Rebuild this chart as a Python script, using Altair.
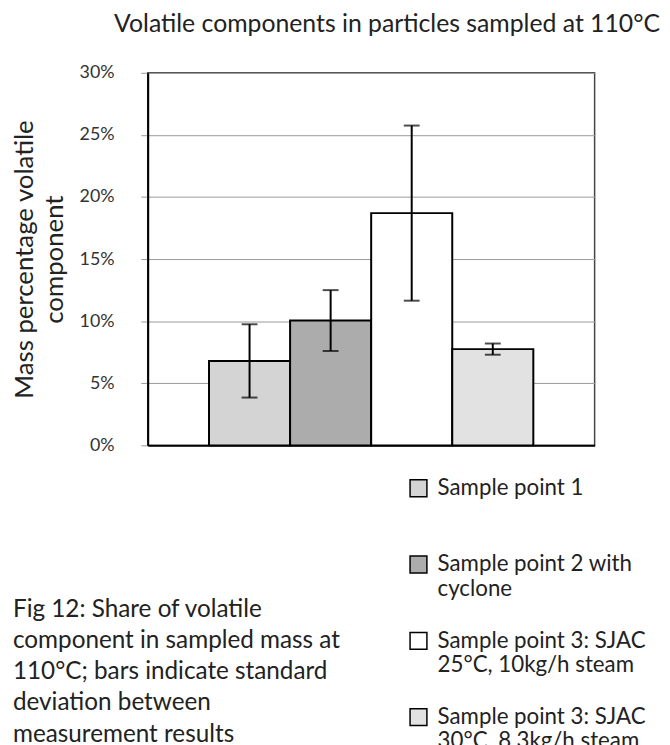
import altair as alt
import pandas as pd

categories = [
    "Sample point 1",
    "Sample point 2 with|cyclone",
    "Sample point 3: SJAC|25°C, 10kg/h steam",
    "Sample point 3: SJAC|30°C, 8.3kg/h steam",
]
means = [6.8, 10.05, 18.7, 7.75]
stdevs = [2.95, 2.45, 7.05, 0.45]
fills = ["#d4d4d4", "#acacac", "#ffffff", "#e2e2e2"]
y_ticks = [0, 5, 10, 15, 20, 25, 30]
caption = [
    "Fig 12: Share of volatile",
    "component in sampled mass at",
    "110°C; bars indicate standard",
    "deviation between",
    "measurement results",
]

df = pd.DataFrame({
    "cat": categories,
    "mean": means,
    "sd": stdevs,
})
df["lo"] = df["mean"] - df["sd"]
df["hi"] = df["mean"] + df["sd"]

FONT = "Lato"

x_enc = alt.X("cat:N", sort=categories,
              scale=alt.Scale(paddingInner=0, paddingOuter=0.756),
              axis=alt.Axis(labels=False, ticks=False, title=None,
                            domain=True, domainColor="#000", domainWidth=2))

bars = alt.Chart(df).mark_bar(stroke="#000", strokeWidth=2, opacity=1).encode(
    x=x_enc,
    y=alt.Y("mean:Q",
            scale=alt.Scale(domain=[0, 30], nice=False),
            axis=alt.Axis(values=y_ticks, labelExpr="datum.value + '%'",
                          title=["Mass percentage volatile", "component"],
                          titleX=-137, titleY=188, titleBaseline="top",
                          titleAlign="center", titleLineHeight=30,
                          titleFontSize=26, titleFontWeight="normal",
                          titleFont=FONT, titleColor="#222",
                          labelFont=FONT, labelFontSize=18, labelColor="#333",
                          labelPadding=27,
                          tickSize=7, tickColor="#999",
                          grid=True, gridColor="#999", gridWidth=1,
                          domain=True, domainColor="#000", domainWidth=2)),
    color=alt.Color("cat:N", sort=categories,
                    scale=alt.Scale(domain=categories, range=fills),
                    legend=alt.Legend(
                        title=None, orient="none", legendX=262, legendY=408,
                        direction="vertical",
                        labelExpr="split(datum.label, '|')",
                        labelFont=FONT, labelFontSize=22.5, labelColor="#222",
                        labelBaseline="middle",
                        labelOffset=8, labelLimit=400,
                        symbolType="square", symbolSize=289,
                        symbolStrokeColor="#000", symbolStrokeWidth=1.5,
                        symbolOpacity=1,
                        gridAlign="all", rowPadding=28,
                    )),
)

rule = alt.Chart(df).mark_rule(color="#000", strokeWidth=2).encode(
    x=alt.X("cat:N", sort=categories),
    y="lo:Q",
    y2="hi:Q",
)
tick_lo = alt.Chart(df).mark_tick(color="#000", thickness=2, size=16, orient="horizontal").encode(
    x=alt.X("cat:N", sort=categories), y="lo:Q")
tick_hi = alt.Chart(df).mark_tick(color="#000", thickness=2, size=16, orient="horizontal").encode(
    x=alt.X("cat:N", sort=categories), y="hi:Q")

cap = alt.Chart(pd.DataFrame({"k": [0]})).mark_text(
    align="left", baseline="top", font=FONT, fontSize=24.5,
    lineHeight=31.5, color="#222",
).encode(x=alt.value(-136), y=alt.value(530), text=alt.value(caption))

chart = alt.layer(bars, rule, tick_lo, tick_hi, cap).properties(
    width=451, height=376,
    autosize=alt.AutoSizeParams(type="none"),
    padding={"left": 141, "top": 62, "right": 68, "bottom": 299},
    title=alt.TitleParams("Volatile components in particles sampled at 110°C",
                          anchor="end", frame="group", dx=66, offset=27,
                          font=FONT, fontSize=25, fontWeight="normal",
                          color="#222"),
    background="white",
).configure_view(stroke="#444", strokeWidth=1.5)

chart.save("out.html", embed_options={"renderer": "svg", "actions": False})
